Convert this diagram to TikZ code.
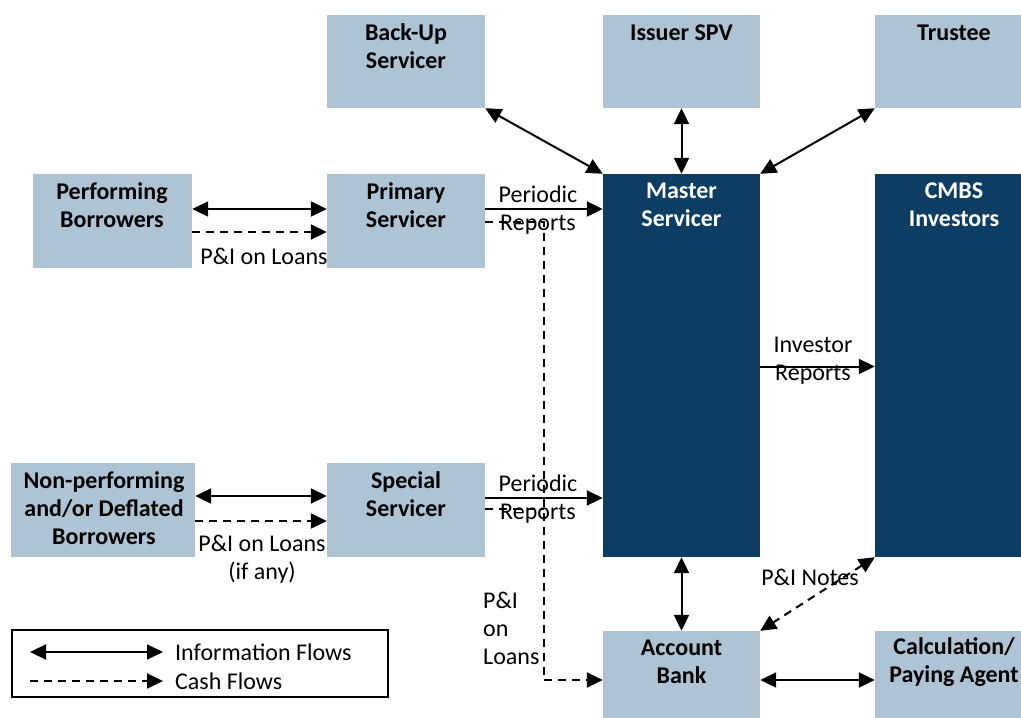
\documentclass[tikz,border=0pt]{standalone}
\usepackage{fontspec}
\setmainfont{Carlito}
\usetikzlibrary{arrows.meta}
\definecolor{lightbox}{HTML}{AEC3D3}
\definecolor{darkbox}{HTML}{0E3D63}
\tikzset{
  lbox/.style={fill=lightbox, draw=none, inner sep=0pt},
  dbox/.style={fill=darkbox, draw=none, inner sep=0pt},
  btxt/.style={font=\fontsize{24}{28}\selectfont\bfseries, align=center, inner sep=0pt, text=black},
  wtxt/.style={btxt, text=white},
  ltxt/.style={font=\fontsize{24}{28}\selectfont, align=center, inner sep=0pt},
  info/.style={line width=2pt, {Triangle[length=16pt,width=15pt]}-{Triangle[length=16pt,width=15pt]}},
  cash/.style={line width=2pt, dash pattern=on 8pt off 6pt, -{Triangle[length=16pt,width=15pt]}},
  cashline/.style={line width=2pt, dash pattern=on 8pt off 6pt},
  cashboth/.style={line width=2pt, dash pattern=on 8pt off 6pt, {Triangle[length=16pt,width=15pt]}-{Triangle[length=16pt,width=15pt]}},
  infoone/.style={line width=2pt, -{Triangle[length=16pt,width=15pt]}}
}
\begin{document}
\begin{tikzpicture}[x=1pt,y=-1pt]
\useasboundingbox (0,0) rectangle (1021,718);
% boxes
\node[lbox, minimum width=158pt, minimum height=93pt] (backup) at (406,61.5) {};
\node[lbox, minimum width=157pt, minimum height=93pt] (issuer) at (681.5,61.5) {};
\node[lbox, minimum width=146pt, minimum height=93pt] (trustee) at (948,61.5) {};
\node[lbox, minimum width=159pt, minimum height=94pt] (perf) at (112.5,221) {};
\node[lbox, minimum width=158pt, minimum height=94pt] (prim) at (406,221) {};
\node[dbox, minimum width=157pt, minimum height=383pt] (master) at (681.5,365.5) {};
\node[dbox, minimum width=146pt, minimum height=383pt] (cmbs) at (948,365.5) {};
\node[lbox, minimum width=184pt, minimum height=94pt] (nonperf) at (103,510) {};
\node[lbox, minimum width=158pt, minimum height=94pt] (spec) at (406,510) {};
\node[lbox, minimum width=157pt, minimum height=87pt] (bank) at (681.5,674.5) {};
\node[lbox, minimum width=146pt, minimum height=87pt] (calc) at (948,674.5) {};
% box texts
\node[btxt] (tbackup) at (406,46.5) {Back-Up\\Servicer};
\node[btxt] (tissuer) at (681.5,33) {Issuer SPV};
\node[btxt] (ttrustee) at (954,33) {Trustee};
\node[btxt] (tperf) at (112,205) {Performing\\Borrowers};
\node[btxt] (tprim) at (406,205) {Primary\\Servicer};
\node[wtxt] (tmaster) at (681.5,205) {Master\\Servicer};
\node[wtxt] (tcmbs) at (954,205) {CMBS\\Investors};
\node[btxt] (tnonperf) at (104,508) {Non-performing\\and/or Deflated\\Borrowers};
\node[btxt] (tspec) at (406,494) {Special\\Servicer};
\node[btxt] (tbank) at (681.5,662) {Account\\Bank};
\node[btxt] (tcalc) at (954,662) {Calculation/\\Paying Agent};
% coordinates
\coordinate (cashx) at (544,400);
\coordinate (p1) at ([yshift=12pt]prim.east);
\coordinate (c1) at ([yshift=-1pt]prim.east);
\coordinate (p2) at ([yshift=12pt]spec.east);
\coordinate (c2) at ([yshift=1pt]spec.east);
\coordinate (bankin) at ([yshift=-5.5pt]bank.west);
\coordinate (m1) at ([yshift=-1pt]master.east);
% connectors
\draw[info] ([yshift=12pt]perf.east) -- ([yshift=12pt]prim.west);
\draw[cash] ([yshift=-11pt]perf.east) -- ([yshift=-11pt]prim.west);
\draw[info] ([yshift=14pt]nonperf.east) -- ([yshift=14pt]spec.west);
\draw[cash] ([yshift=-11pt]nonperf.east) -- ([yshift=-11pt]spec.west);
\draw[infoone] (p1) -- (p1 -| master.west);
\draw[infoone] (p2) -- (p2 -| master.west);
\draw[cashline] (c1) -- (c1 -| cashx) -- (cashx |- bankin);
\draw[cash] (cashx |- bankin) -- (bankin);
\draw[cashline] (c2) -- (c2 -| cashx);
\draw[infoone] (m1) -- (m1 -| cmbs.west);
\draw[info] (backup.south east) -- (master.north west);
\draw[info] (issuer.south) -- (master.north);
\draw[info] (trustee.south west) -- (master.north east);
\draw[info] (master.south) -- (bank.north);
\draw[cashboth] (cmbs.south west) -- (bank.north east);
\draw[info] ([yshift=-5.5pt]bank.east) -- ([yshift=-5.5pt]calc.west);
% labels
\node[ltxt] (lpl1) at (264,256) {P\&I on Loans};
\node[ltxt] (lpl2) at (262,559) {P\&I on Loans\\(if any)};
\node[ltxt] (lpr1) at (538,210) {Periodic\\Reports};
\node[ltxt] (lpr2) at (538,499) {Periodic\\Reports};
\node[ltxt] (linv) at (813,360.5) {Investor\\Reports};
\node[ltxt] (lpin) at (810,577) {P\&I Notes};
\node[ltxt, align=left, anchor=west] (lpil) at (483,628) {P\&I\\on\\Loans};
% legend
\node[draw, line width=1.5pt, minimum width=376pt, minimum height=67pt, inner sep=0pt] (legend) at (200,663.5) {};
\coordinate (la1) at (30,652);
\coordinate (la2) at (163,652);
\coordinate (lb1) at (30,681);
\coordinate (lb2) at (163,681);
\draw[info] (la1) -- (la2);
\draw[cash] (lb1) -- (lb2);
\node[ltxt, anchor=west] (linfo) at (175,652) {Information Flows};
\node[ltxt, anchor=west] (lcash) at (175,681) {Cash Flows};
\end{tikzpicture}
\end{document}
